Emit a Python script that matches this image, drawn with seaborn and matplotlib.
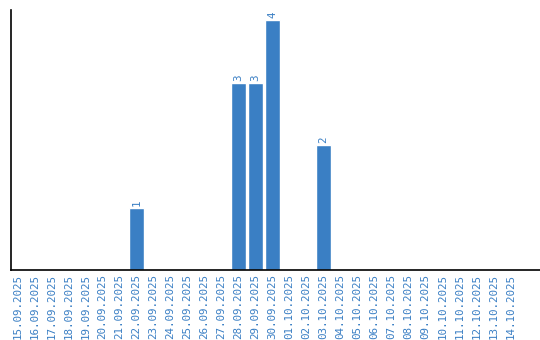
import matplotlib
matplotlib.use("Agg")
import matplotlib.pyplot as plt
import seaborn as sns
import pandas as pd

dates = ["15.09.2025", "16.09.2025", "17.09.2025", "18.09.2025", "19.09.2025",
         "20.09.2025", "21.09.2025", "22.09.2025", "23.09.2025", "24.09.2025",
         "25.09.2025", "26.09.2025", "27.09.2025", "28.09.2025", "29.09.2025",
         "30.09.2025", "01.10.2025", "02.10.2025", "03.10.2025", "04.10.2025",
         "05.10.2025", "06.10.2025", "07.10.2025", "08.10.2025", "09.10.2025",
         "10.10.2025", "11.10.2025", "12.10.2025", "13.10.2025", "14.10.2025"]
counts = [0, 0, 0, 0, 0, 0, 0, 1, 0, 0, 0, 0, 0, 3, 3, 4, 0, 0, 2, 0,
          0, 0, 0, 0, 0, 0, 0, 0, 0, 0]

df = pd.DataFrame({"date": dates, "count": counts})

sns.set_style("white")
blue = "#3a7fc4"
fig = plt.figure(figsize=(5.4, 3.4), dpi=100)
ax = fig.add_axes([11/540, 70/340, 1 - 11/540, 260/340])
sns.barplot(data=df, x="date", y="count", color=blue, width=0.84,
            saturation=1, ax=ax, order=dates)
ax.set_xlim(-0.38, 30.72)
ax.set_ylim(0, 4.16)
ax.set_xlabel("")
ax.set_ylabel("")
ax.set_yticks([])
ax.tick_params(axis="x", length=0, pad=3, labelsize=7.8, labelcolor=blue, rotation=90)
for lab in ax.get_xticklabels():
    lab.set_family("DejaVu Sans Mono")
for s in ["top", "right"]:
    ax.spines[s].set_visible(False)
for s in ["left", "bottom"]:
    ax.spines[s].set_color("black")
    ax.spines[s].set_linewidth(1.2)
for i, v in enumerate(counts):
    if v > 0:
        ax.text(i, v + 0.03, str(v), rotation=90, ha="center", va="bottom",
                color=blue, fontsize=7.8, family="DejaVu Sans Mono")
fig.savefig("out.png", dpi=100)
